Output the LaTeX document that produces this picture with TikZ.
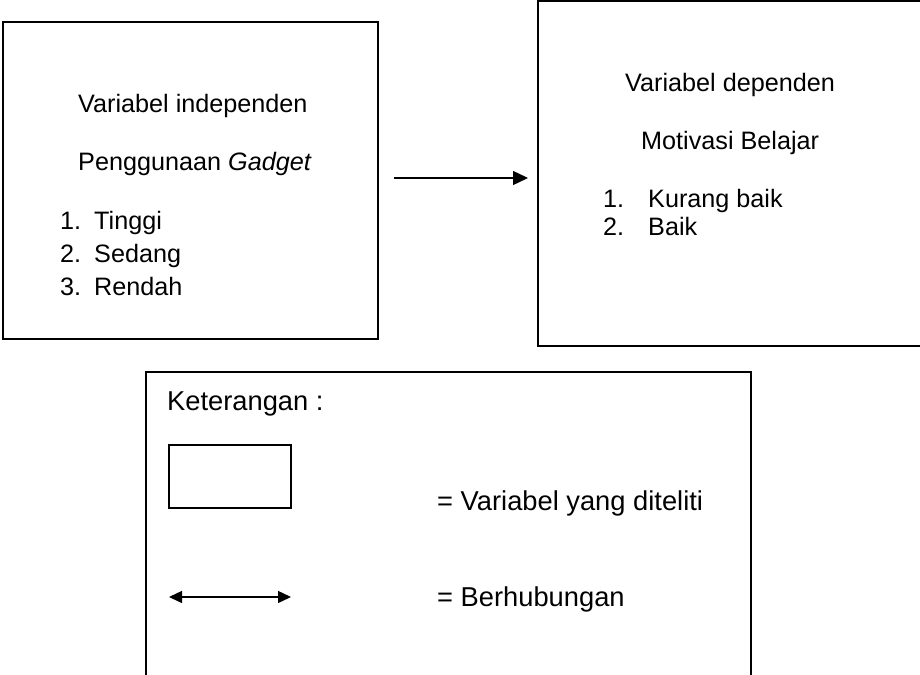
\documentclass[tikz,border=0pt]{standalone}
\usepackage{fontspec}
\setmainfont{Liberation Sans}
\usetikzlibrary{arrows.meta}
\begin{document}
\begin{tikzpicture}[x=1pt,y=-1pt,
  box/.style={draw=black,line width=1.4pt,inner sep=0pt,outer sep=0pt},
  txt/.style={inner sep=0pt,anchor=base west,font=\fontsize{25.2}{30}\selectfont},
  ltxt/.style={inner sep=0pt,anchor=base west,font=\fontsize{27.3}{32}\selectfont},
  conn/.style={line width=1.4pt,-{Triangle[length=15pt,width=14pt]}},
  legarrow/.style={line width=1.4pt,{Triangle[length=13pt,width=12pt]}-{Triangle[length=13pt,width=12pt]}}]
\useasboundingbox[fill=white] (0,0) rectangle (920,674);
% boxes
\node[box,minimum width=375pt,minimum height=317pt] (lbox) at (190.5,180.5) {};
\node[box,minimum width=392pt,minimum height=345pt] (rbox) at (734,173.5) {};
% left box texts
\node[txt] (l1) at (78,113) {Variabel independen};
\node[txt] (l2) at (78,170) {Penggunaan \textit{Gadget}};
\node[txt] (n1) at (60,229) {1.};
\node[txt] (t1) at (94,229) {Tinggi};
\node[txt] (n2) at (60,262) {2.};
\node[txt] (t2) at (94,262) {Sedang};
\node[txt] (n3) at (60,295) {3.};
\node[txt] (t3) at (94,295) {Rendah};
% right box texts
\node[txt] (r1) at (625,92) {Variabel dependen};
\node[txt] (r2) at (641,149) {Motivasi Belajar};
\node[txt] (m1) at (603,207) {1.};
\node[txt] (k1) at (648,207) {Kurang baik};
\node[txt] (m2) at (603,235) {2.};
\node[txt] (k2) at (648,235) {Baik};
% connector
\coordinate (ay) at (0,178);
\draw[conn,shorten <=16pt,shorten >=10pt] (lbox.east |- ay) -- (rbox.west |- ay);
% legend box (open at the bottom)
\coordinate (kbl) at (146,690);
\coordinate (ktl) at (146,372);
\coordinate (ktr) at (751,372);
\coordinate (kbr) at (751,690);
\draw[line width=1.4pt] (kbl) -- (ktl) -- (ktr) -- (kbr);
\node[ltxt] (ket) at (167,410) {Keterangan :};
\node[box,line width=1.1pt,minimum width=122pt,minimum height=63pt] (lrect) at (230,476.5) {};
\node[ltxt] (lv) at (437,510) {= Variabel yang diteliti};
\coordinate (da) at (169,597);
\coordinate (db) at (291,597);
\draw[legarrow] (da) -- (db);
\node[ltxt] (lb) at (437,606) {= Berhubungan};
\end{tikzpicture}
\end{document}
